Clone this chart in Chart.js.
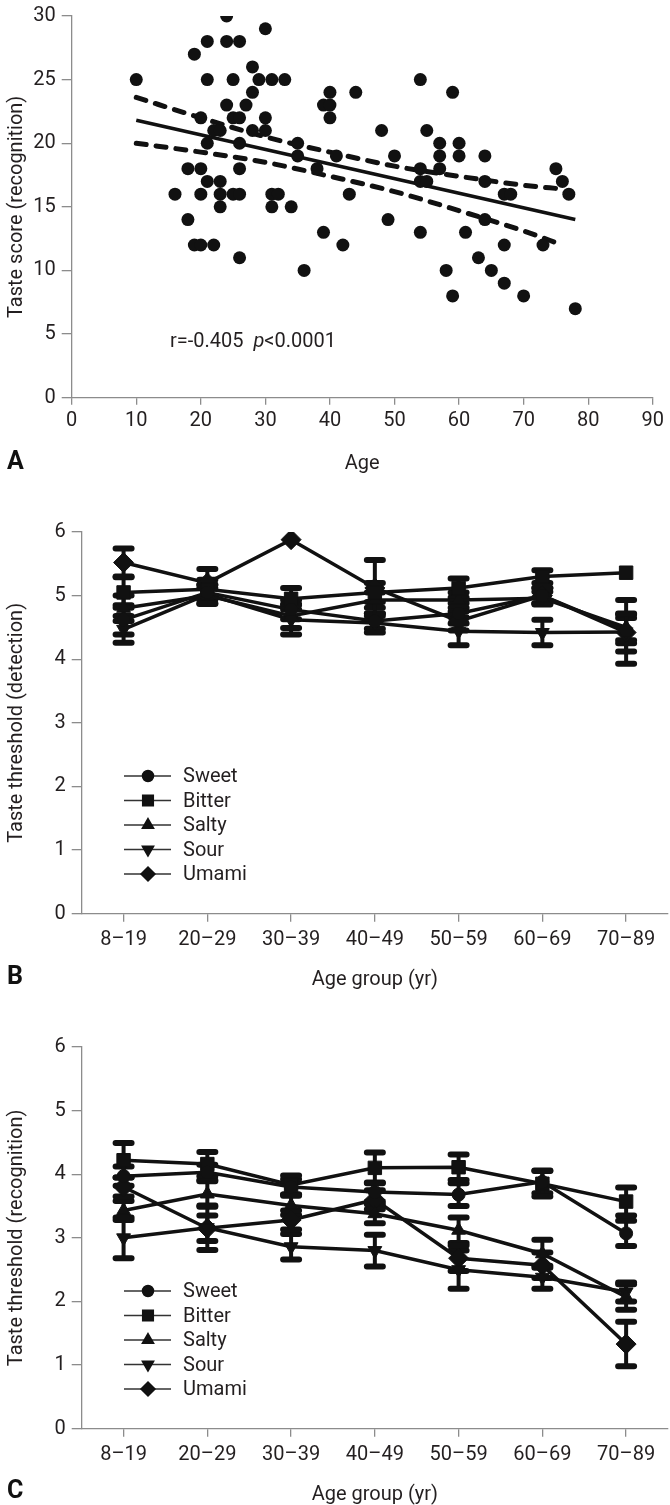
<!DOCTYPE html>
<html>
<head>
<meta charset="utf-8">
<script src="https://cdn.jsdelivr.net/npm/chart.js@4.4.1/dist/chart.umd.min.js"></script>
<style>
  body { margin: 0; background: #fff; width: 670px; height: 1505px; position: relative; overflow: hidden; }
  .panel { position: absolute; left: 0; width: 670px; }
  .letter { position: absolute; left: 7px; font: bold 25px Roboto, "Liberation Sans", sans-serif; color: #111; }
  .stat { position: absolute; left: 170px; top: 328px; font: 20px Roboto, "Liberation Sans", sans-serif; color: #231f20; white-space: pre; }
</style>
</head>
<body>
<div class="panel" style="top:0;height:516px"><canvas id="chartA" width="670" height="516"></canvas></div>
<div class="panel" style="top:516px;height:515px"><canvas id="chartB" width="670" height="515"></canvas></div>
<div class="panel" style="top:1031px;height:474px"><canvas id="chartC" width="670" height="474"></canvas></div>
<div class="stat">r=-0.405  <i>p</i>&lt;0.0001</div>
<div class="letter" style="top:446px">A</div>
<div class="letter" style="top:961px">B</div>
<div class="letter" style="top:1475px">C</div>

<script>
// panel A: age vs recognition score
const ageValues = [10,16,18,18,19,19,20,20,20,20,21,21,21,21,22,22,23,23,23,23,24,24,24,25,25,25,26,26,26,26,26,26,27,28,28,28,29,30,30,30,31,31,31,32,33,34,35,35,36,38,39,39,40,40,40,41,42,43,44,48,49,50,54,54,54,54,55,55,57,57,57,58,59,59,60,60,61,63,64,64,64,65,67,67,67,68,70,73,75,76,77,78];
const scoreValues = [25,16,18,14,27,12,22,18,16,12,28,25,20,17,21,12,21,17,16,15,30,28,23,25,22,16,28,22,20,18,16,11,23,26,24,21,25,29,22,21,25,16,15,16,25,15,20,19,10,18,23,13,24,23,22,19,12,16,24,21,14,19,25,18,17,13,21,17,20,19,18,10,24,8,20,19,13,11,19,17,14,10,16,12,9,16,8,12,18,17,16,7];
const fitAges = [10, 78];
const fitScores = [21.8, 14.0];
const bandAges = [10, 20, 30, 40, 50, 60, 70, 76];
const upperBand = [23.6, 22.0, 20.5, 19.3, 18.2, 17.4, 16.7, 16.4];
const lowerBand = [20.0, 19.3, 18.5, 17.4, 16.2, 14.7, 13.1, 12.0];
const ageTicks = [0, 10, 20, 30, 40, 50, 60, 70, 80, 90];
const scoreTicks = [0, 5, 10, 15, 20, 25, 30];

// panels B and C: thresholds by age group
const ageGroups = ['8–19', '20–29', '30–39', '40–49', '50–59', '60–69', '70–89'];
const tastes = ['Sweet', 'Bitter', 'Salty', 'Sour', 'Umami'];
const thresholdTicks = [0, 1, 2, 3, 4, 5, 6];

const sweetDetection  = [4.62, 5.05, 4.78, 4.60, 4.72, 5.00, 4.45];
const bitterDetection = [5.05, 5.10, 4.95, 5.05, 5.12, 5.30, 5.36];
const saltyDetection  = [4.80, 5.00, 4.68, 4.93, 4.93, 4.96, 4.50];
const sourDetection   = [4.47, 5.02, 4.62, 4.57, 4.44, 4.42, 4.43];
const umamiDetection  = [5.52, 5.20, 5.88, 5.12, 4.60, 5.00, 4.42];

const sweetDetectionErr  = [0.23, 0.12, 0.15, 0.12, 0.16, 0.12, 0.20];
const bitterDetectionErr = [0.24, 0.15, 0.17, 0.15, 0.15, 0.10, 0];
const saltyDetectionErr  = [0.20, 0.12, 0.19, 0.12, 0.12, 0.10, 0.20];
const sourDetectionErr   = [0.21, 0.15, 0.23, 0.15, 0.22, 0.20, 0.50];
const umamiDetectionErr  = [0.22, 0.22, 0, 0.44, 0.15, 0.12, 0.30];

const sweetRecognition  = [3.97, 4.03, 3.80, 3.72, 3.68, 3.88, 3.07];
const bitterRecognition = [4.22, 4.16, 3.83, 4.10, 4.11, 3.85, 3.57];
const saltyRecognition  = [3.43, 3.69, 3.51, 3.38, 3.12, 2.75, 2.07];
const sourRecognition   = [3.00, 3.16, 2.86, 2.80, 2.50, 2.38, 2.15];
const umamiRecognition  = [3.80, 3.15, 3.28, 3.60, 2.68, 2.57, 1.33];

const sweetRecognitionErr  = [0.15, 0.12, 0.12, 0.15, 0.18, 0.18, 0.20];
const bitterRecognitionErr = [0.27, 0.19, 0.15, 0.24, 0.20, 0.20, 0.22];
const saltyRecognitionErr  = [0.15, 0.20, 0.15, 0.15, 0.20, 0.22, 0.20];
const sourRecognitionErr   = [0.32, 0.35, 0.20, 0.25, 0.30, 0.18, 0.15];
const umamiRecognitionErr  = [0.15, 0.20, 0.15, 0.15, 0.20, 0.20, 0.35];

const inkColor = '#111111';
const textColor = '#231f20';
const axisGray = '#8c8c8c';
const fontFamily = 'Roboto, "Liberation Sans", sans-serif';

// marker look per taste, in legend order
const markerStyles = [
    { pointStyle: 'circle', rotation: 0, radius: 6.5, legendRadius: 5.5 },
    { pointStyle: 'rect', rotation: 0, radius: 9.5, legendRadius: 7.5 },
    { pointStyle: 'triangle', rotation: 0, radius: 8, legendRadius: 6.5 },
    { pointStyle: 'triangle', rotation: 180, radius: 8, legendRadius: 6.5 },
    { pointStyle: 'rectRot', rotation: 0, radius: 10, legendRadius: 7 }
];

// error bars with rounded caps, under the markers
const errorBarPlugin = {
    id: 'errorBars',
    beforeDatasetsDraw(chart) {
        const ctx = chart.ctx;
        const yScale = chart.scales.y;
        chart.data.datasets.forEach((ds, i) => {
            if (!ds.errors) return;
            const meta = chart.getDatasetMeta(i);
            meta.data.forEach((pt, j) => {
                const e = ds.errors[j];
                if (!e) return;
                const v = ds.data[j];
                const yTop = yScale.getPixelForValue(v + e);
                const yBot = yScale.getPixelForValue(v - e);
                ctx.save();
                ctx.strokeStyle = inkColor;
                ctx.lineCap = 'round';
                ctx.lineWidth = 4;
                ctx.beginPath();
                ctx.moveTo(pt.x, yTop);
                ctx.lineTo(pt.x, yBot);
                ctx.stroke();
                ctx.lineWidth = 6;
                ctx.beginPath();
                ctx.moveTo(pt.x - 8, yTop);
                ctx.lineTo(pt.x + 8, yTop);
                ctx.moveTo(pt.x - 8, yBot);
                ctx.lineTo(pt.x + 8, yBot);
                ctx.stroke();
                ctx.restore();
            });
        });
    }
};

// legend drawn as line + marker + name
const lineLegendPlugin = {
    id: 'lineLegend',
    afterDraw(chart, args, opts) {
        const ctx = chart.ctx;
        chart.data.datasets.forEach((ds, i) => {
            const y = opts.y + i * opts.gap;
            ctx.save();
            ctx.strokeStyle = '#333';
            ctx.lineWidth = 1.5;
            ctx.beginPath();
            ctx.moveTo(opts.x, y);
            ctx.lineTo(opts.x + 47, y);
            ctx.stroke();
            ctx.fillStyle = inkColor;
            ctx.strokeStyle = inkColor;
            Chart.helpers.drawPoint(ctx, {
                pointStyle: ds.pointStyle,
                rotation: ds.pointRotation,
                radius: ds.legendRadius,
                borderWidth: 1
            }, opts.x + 24, y);
            ctx.fillStyle = textColor;
            ctx.font = '20px ' + fontFamily;
            ctx.textBaseline = 'middle';
            ctx.fillText(ds.label, opts.x + 59, y + 1);
            ctx.restore();
        });
    }
};

function axisFont() {
    return { family: fontFamily, size: 20, lineHeight: 1 };
}

function makeYScale(min, max, ticks, title, width) {
    return {
        min: min,
        max: max,
        afterBuildTicks: scale => { scale.ticks = ticks.map(v => ({ value: v })); },
        ticks: { color: textColor, font: axisFont(), padding: 6 },
        grid: { drawOnChartArea: false, tickLength: 10, color: axisGray, lineWidth: 1.3 },
        border: { color: axisGray, width: 1.3 },
        title: { display: true, text: title, color: textColor, font: axisFont(), padding: { top: 7, bottom: 0 } },
        afterFit: scale => { scale.width = width; }
    };
}

function xTitle(text) {
    return { display: true, text: text, color: textColor, font: axisFont(), padding: { top: 0, bottom: 0 } };
}

function buildThresholdChart(canvasId, series, errors, yTitle) {
    const datasets = tastes.map((name, i) => ({
        label: name,
        data: series[i],
        errors: errors[i],
        borderColor: inkColor,
        backgroundColor: inkColor,
        borderWidth: 3.5,
        pointStyle: markerStyles[i].pointStyle,
        pointRotation: markerStyles[i].rotation,
        pointRadius: markerStyles[i].radius,
        pointBackgroundColor: inkColor,
        pointBorderColor: inkColor,
        pointBorderWidth: 1,
        legendRadius: markerStyles[i].legendRadius,
        tension: 0
    }));
    const canvas = document.getElementById(canvasId);
    return new Chart(canvas, {
        type: 'line',
        data: { labels: ageGroups, datasets: datasets },
        options: {
            responsive: false,
            animation: false,
            events: [],
            layout: { autoPadding: false, padding: { left: 0, top: 12.7, right: 2, bottom: canvas.height - 397.7 - 76 } },
            plugins: {
                legend: { display: false },
                tooltip: { enabled: false },
                lineLegend: { x: 124, y: 260, gap: 24.5 }
            },
            scales: {
                x: {
                    type: 'category',
                    offset: true,
                    ticks: { color: textColor, font: axisFont(), padding: 8 },
                    grid: { drawOnChartArea: false, offset: false, tickLength: 8, color: axisGray, lineWidth: 1.3 },
                    border: { color: axisGray, width: 1.3 },
                    title: xTitle('Age group (yr)'),
                    afterFit: scale => { scale.height = 76; }
                },
                y: makeYScale(0, 6, thresholdTicks, yTitle, 81.7)
            }
        },
        plugins: [errorBarPlugin, lineLegendPlugin]
    });
}

function buildScatterChart() {
    const canvas = document.getElementById('chartA');
    const points = ageValues.map((a, i) => ({ x: a, y: scoreValues[i] }));
    const toXY = (xs, ys) => xs.map((x, i) => ({ x: x, y: ys[i] }));
    const bandStyle = {
        showLine: true,
        pointRadius: 0,
        borderColor: inkColor,
        borderWidth: 5,
        borderDash: [10, 10],
        borderCapStyle: 'round',
        tension: 0.4,
        cubicInterpolationMode: 'monotone'
    };
    return new Chart(canvas, {
        type: 'scatter',
        data: {
            datasets: [
                { label: 'Subjects', data: points, pointRadius: 6.5, backgroundColor: inkColor, borderWidth: 0 },
                { label: 'Fit', data: toXY(fitAges, fitScores), showLine: true, pointRadius: 0, borderColor: inkColor, borderWidth: 3.5 },
                Object.assign({ label: 'Upper 95% CI', data: toXY(bandAges, upperBand) }, bandStyle),
                Object.assign({ label: 'Lower 95% CI', data: toXY(bandAges, lowerBand) }, bandStyle)
            ]
        },
        options: {
            responsive: false,
            animation: false,
            events: [],
            layout: { autoPadding: false, padding: { left: 0, top: 12.7, right: 670 - 655.7, bottom: canvas.height - 397.7 - 76 } },
            plugins: { legend: { display: false }, tooltip: { enabled: false } },
            scales: {
                x: {
                    type: 'linear',
                    min: 0,
                    max: 90,
                    afterBuildTicks: scale => { scale.ticks = ageTicks.map(v => ({ value: v })); },
                    ticks: { color: textColor, font: axisFont(), padding: 6 },
                    grid: { drawOnChartArea: false, tickLength: 7, color: axisGray, lineWidth: 1.3 },
                    border: { color: axisGray, width: 1.3 },
                    title: xTitle('Age'),
                    afterFit: scale => { scale.height = 76; }
                },
                y: makeYScale(0, 30, scoreTicks, 'Taste score (recognition)', 71.7)
            }
        }
    });
}

buildScatterChart();
buildThresholdChart('chartB',
    [sweetDetection, bitterDetection, saltyDetection, sourDetection, umamiDetection],
    [sweetDetectionErr, bitterDetectionErr, saltyDetectionErr, sourDetectionErr, umamiDetectionErr],
    'Taste threshold (detection)');
buildThresholdChart('chartC',
    [sweetRecognition, bitterRecognition, saltyRecognition, sourRecognition, umamiRecognition],
    [sweetRecognitionErr, bitterRecognitionErr, saltyRecognitionErr, sourRecognitionErr, umamiRecognitionErr],
    'Taste threshold (recognition)');
</script>
</body>
</html>
